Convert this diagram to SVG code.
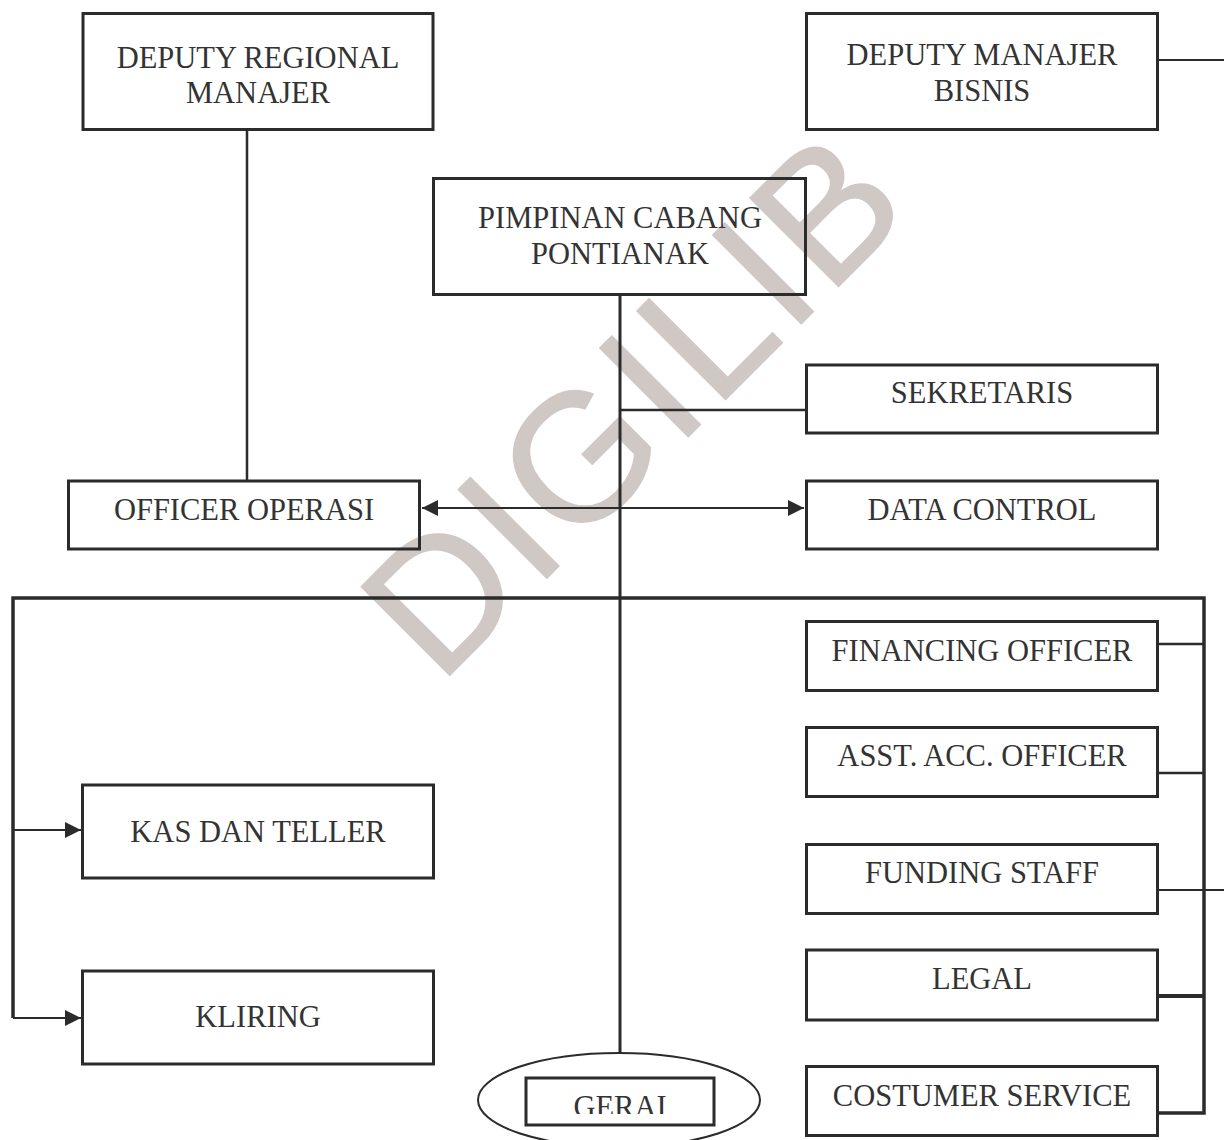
<svg xmlns="http://www.w3.org/2000/svg" width="1224" height="1140" viewBox="0 0 1224 1140">
<style>
.box{fill:none;stroke:#2b2b2b;stroke-width:3}
.t{font-family:"Liberation Serif","Times New Roman",serif;font-size:30.5px;fill:#333;text-anchor:middle}
.ln{stroke:#2b2b2b;fill:none}
.wm{font-family:"Liberation Sans",Arial,sans-serif;font-size:182px;fill:#cfc8c5;stroke:#cfc8c5;stroke-width:1.5;text-anchor:middle}
</style>
<defs>
<marker id="ah2" viewBox="0 0 10 10" refX="10" refY="5" markerWidth="16" markerHeight="16" markerUnits="userSpaceOnUse" orient="auto-start-reverse">
<path d="M0,0 L10,5 L0,10 z" fill="#2b2b2b"/>
</marker>
<clipPath id="gclip"><rect x="526" y="1078" width="188" height="36"/></clipPath>
</defs>
<rect width="1224" height="1140" fill="#fff"/>
<text class="wm" x="678" y="447" transform="rotate(-45 678 447)" letter-spacing="4">DIGILIB</text>
<g id="connectors">
<line class="ln" x1="247" y1="130" x2="247" y2="480" stroke-width="2.5"/>
<line class="ln" x1="620" y1="295" x2="620" y2="1053" stroke-width="3"/>
<line class="ln" x1="1158" y1="60" x2="1224" y2="60" stroke-width="2"/>
<line class="ln" x1="620" y1="410" x2="806" y2="410" stroke-width="2.5"/>
<line class="ln" x1="422" y1="508" x2="804" y2="508" stroke-width="2" marker-start="url(#ah2)" marker-end="url(#ah2)"/>
<polyline class="ln" points="13,1018 13,598 1204,598 1204,1113 1158,1113" stroke-width="3.5"/>
<line class="ln" x1="13" y1="830" x2="81" y2="830" stroke-width="2" marker-end="url(#ah2)"/>
<line class="ln" x1="13" y1="1018" x2="81" y2="1018" stroke-width="2" marker-end="url(#ah2)"/>
<line class="ln" x1="1158" y1="644" x2="1204" y2="644" stroke-width="2.5"/>
<line class="ln" x1="1158" y1="773" x2="1204" y2="773" stroke-width="2.5"/>
<line class="ln" x1="1158" y1="890" x2="1224" y2="890" stroke-width="2"/>
<line class="ln" x1="1158" y1="996" x2="1204" y2="996" stroke-width="4"/>
</g>
<g id="deputy-regional">
<rect class="box" x="83" y="13.5" width="350" height="116"/>
<text class="t" x="258" y="68">DEPUTY REGIONAL</text>
<text class="t" x="258" y="103">MANAJER</text>
</g>
<g id="deputy-bisnis">
<rect class="box" x="806.5" y="13.5" width="351" height="116"/>
<text class="t" x="982" y="65">DEPUTY MANAJER</text>
<text class="t" x="982" y="101">BISNIS</text>
</g>
<g id="pimpinan">
<rect class="box" x="433.5" y="178.5" width="372" height="116"/>
<text class="t" x="620" y="228">PIMPINAN CABANG</text>
<text class="t" x="620" y="264">PONTIANAK</text>
</g>
<g id="sekretaris">
<rect class="box" x="806.5" y="365" width="351" height="68"/>
<text class="t" x="982" y="403">SEKRETARIS</text>
</g>
<g id="officer-operasi">
<rect class="box" x="68.5" y="481" width="351" height="68"/>
<text class="t" x="244" y="520">OFFICER OPERASI</text>
</g>
<g id="data-control">
<rect class="box" x="806.5" y="481" width="351" height="68"/>
<text class="t" x="982" y="520">DATA CONTROL</text>
</g>
<g id="kas-dan-teller">
<rect class="box" x="82.5" y="785" width="351" height="93"/>
<text class="t" x="258" y="842">KAS DAN TELLER</text>
</g>
<g id="kliring">
<rect class="box" x="82.5" y="971" width="351" height="93"/>
<text class="t" x="258" y="1027">KLIRING</text>
</g>
<g id="financing-officer">
<rect class="box" x="806.5" y="621.5" width="351" height="69"/>
<text class="t" x="982" y="661">FINANCING OFFICER</text>
</g>
<g id="asst-acc-officer">
<rect class="box" x="806.5" y="727.5" width="351" height="69"/>
<text class="t" x="982" y="766">ASST. ACC. OFFICER</text>
</g>
<g id="funding-staff">
<rect class="box" x="806.5" y="844.5" width="351" height="69"/>
<text class="t" x="982" y="883">FUNDING STAFF</text>
</g>
<g id="legal">
<rect class="box" x="806.5" y="950" width="351" height="70"/>
<text class="t" x="982" y="989">LEGAL</text>
</g>
<g id="costumer-service">
<rect class="box" x="806.5" y="1066.5" width="351" height="69"/>
<text class="t" x="982" y="1106">COSTUMER SERVICE</text>
</g>
<g id="gerai">
<ellipse cx="619" cy="1100" rx="141" ry="47" fill="none" stroke="#2b2b2b" stroke-width="2"/>
<rect class="box" x="526" y="1078" width="188" height="47"/>
<text class="t" x="620" y="1117" clip-path="url(#gclip)">GERAI</text>
</g>
</svg>
